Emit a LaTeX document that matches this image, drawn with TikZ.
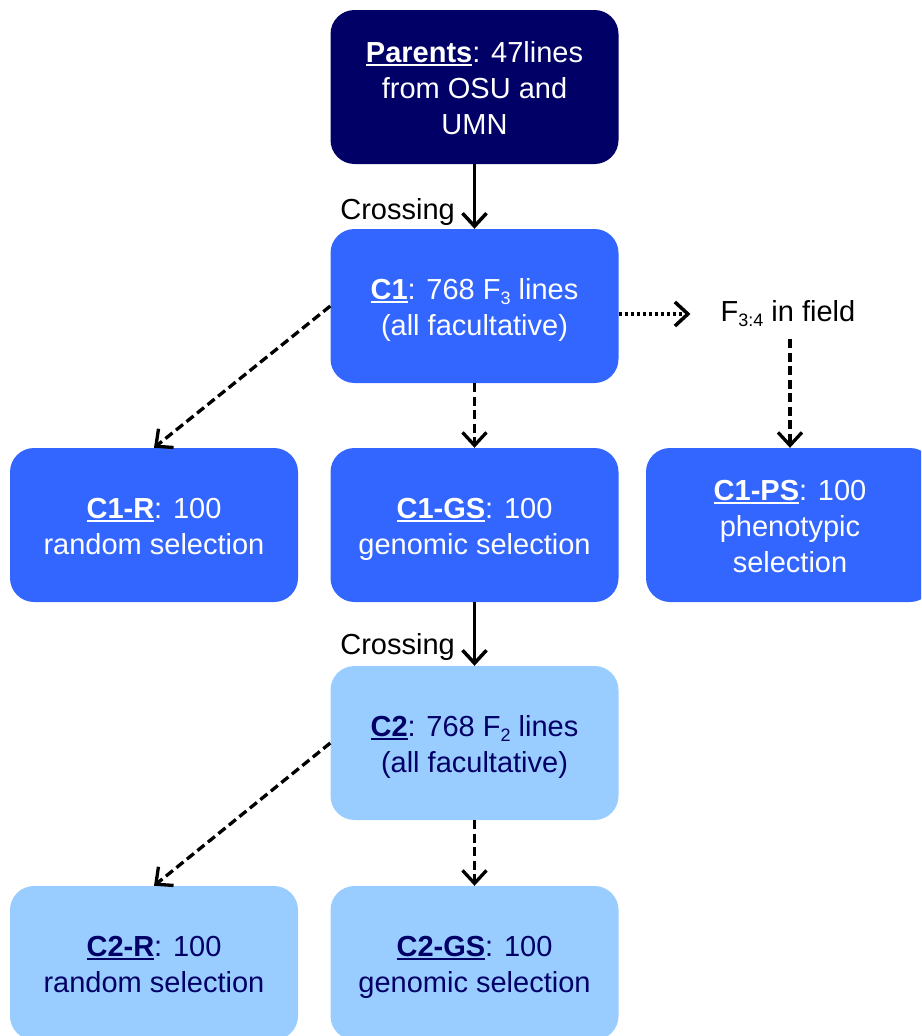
\documentclass[tikz,border=0pt]{standalone}
\usepackage{fontspec}
\setmainfont{Liberation Sans}
\usetikzlibrary{arrows.meta}
\definecolor{navy}{HTML}{000066}
\definecolor{cblue}{HTML}{3366FF}
\definecolor{clight}{HTML}{99CCFF}
\newcommand\uln[1]{\setbox0\hbox{#1}\rlap{\rule[-3.5pt]{\wd0}{1.8pt}}\box0}
\newcommand\bt[1]{\raisebox{-4pt}[\height][\depth]{\begin{tabular}{@{}c@{}}#1\end{tabular}}}
\newcommand\sbs[1]{\raisebox{-5pt}{\fontsize{18}{18}\selectfont #1}}
\begin{document}
\begin{tikzpicture}[x=1pt,y=-1pt,
 box/.style={rounded corners=24pt, minimum width=288pt, minimum height=154pt, inner sep=0pt, font=\fontsize{29}{36}\selectfont},
 dark/.style={box, fill=navy, text=white},
 mid/.style={box, fill=cblue, text=white},
 light/.style={box, fill=clight, text=navy},
 lbl/.style={font=\fontsize{29}{36}\selectfont, inner sep=0pt},
 tip/.style={-{Straight Barb[length=13pt,width=24pt]}},
 solidarrow/.style={tip, line width=3.5pt},
 dasharrow/.style={tip, line width=3.3pt, dash pattern=on 9pt off 4.5pt},
 dotarrow/.style={tip, line width=3.5pt, dash pattern=on 3.5pt off 2.5pt},
]
\useasboundingbox (0,0) rectangle (921,1036);
\clip (0,0) rectangle (921,1036);
\node[dark] (par) at (474.5,87) {\bt{\uln{\textbf{Parents}}: 47lines\\from OSU and\\UMN}};
\node[mid] (c1) at (474.5,306) {\bt{\uln{\textbf{C1}}: 768 F\sbs{3} lines\\(all facultative)}};
\node[mid] (c1r) at (154,525) {\bt{\uln{\textbf{C1-R}}: 100\\random selection}};
\node[mid] (c1gs) at (474.5,525) {\bt{\uln{\textbf{C1-GS}}: 100\\genomic selection}};
\node[mid] (c1ps) at (790,525) {\bt{\uln{\textbf{C1-PS}}: 100\\phenotypic\\selection}};
\node[light] (c2) at (474.5,743) {\bt{\uln{\textbf{C2}}: 768 F\sbs{2} lines\\(all facultative)}};
\node[light] (c2r) at (154,963) {\bt{\uln{\textbf{C2-R}}: 100\\random selection}};
\node[light] (c2gs) at (474.5,963) {\bt{\uln{\textbf{C2-GS}}: 100\\genomic selection}};
\node[lbl, anchor=east] (cross1) at (455,212) {Crossing};
\node[lbl, anchor=east] (cross2) at (455,647) {Crossing};
\node[lbl] (f34) at (788,314) {F\sbs{3:4} in field};
\draw[solidarrow] (par) -- (c1);
\draw[solidarrow] (c1gs) -- (c2);
\draw[dasharrow] (c1.west) -- (c1r.north);
\draw[dasharrow] (c1) -- (c1gs);
\draw[dotarrow] (c1.east |- f34) -- ([xshift=-30pt]f34.west);
\draw[dasharrow, shorten <=12pt] (f34.south -| c1ps) -- (c1ps.north);
\draw[dasharrow] (c2.west) -- (c2r.north);
\draw[dasharrow] (c2) -- (c2gs);
\end{tikzpicture}
\end{document}
